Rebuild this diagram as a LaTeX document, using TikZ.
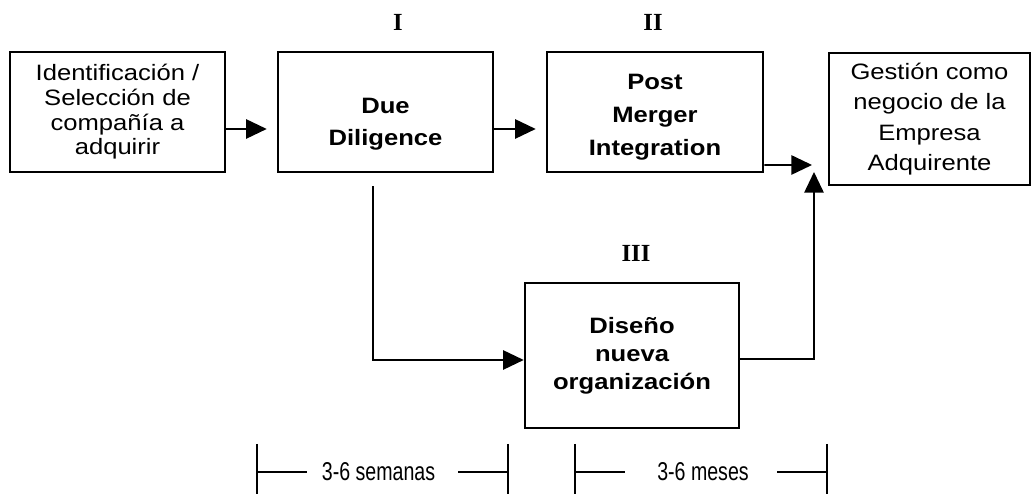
\documentclass[tikz,border=0pt]{standalone}
\usepackage{fontspec}
\setmainfont[FakeStretch=1.15]{Liberation Sans}
\newfontfamily\narrowfont[FakeStretch=0.76]{Liberation Sans}
\newfontfamily\romanfont{Liberation Serif}
\usetikzlibrary{arrows.meta}

\begin{document}
\begin{tikzpicture}[
  stage/.style={draw=black, line width=2.2pt, align=center, inner sep=0pt},
  flow/.style={-{Triangle[length=0.62cm,width=0.58cm]}, black, line width=1.5pt},
  phase/.style={font=\romanfont\bfseries\fontsize{21}{25}\selectfont},
  span/.style={font=\narrowfont\fontsize{22}{26}\selectfont}
]
  % Layout frame
  \useasboundingbox (0,0) rectangle (31.02,14.82);

  % -------- top row --------
  \node[stage, minimum width=6.45cm, minimum height=3.6cm,
        font=\fontsize{19}{21}\selectfont] (ident) at (3.525,11.46)
        {Identificación /\\Selección de\\compañía a\\adquirir};
  \node[stage, minimum width=6.45cm, minimum height=3.6cm] (due) at (11.565,11.46) {};
  \node[align=center, font=\bfseries\fontsize{19}{27}\selectfont] (duetext)
        at ([yshift=-0.36cm]due.center) {Due\\Diligence};
  \node[stage, minimum width=6.48cm, minimum height=3.6cm] (pmi) at (19.65,11.46) {};
  \node[align=center, font=\bfseries\fontsize{19}{28}\selectfont] (pmitext)
        at ([yshift=-0.15cm]pmi.center) {Post\\Merger\\Integration};
  \node[stage, minimum width=6.03cm, minimum height=3.96cm,
        font=\fontsize{19}{26}\selectfont] (gestion) at (27.885,11.25)
        {Gestión como\\negocio de la\\Empresa\\Adquirente};

  % -------- lower box --------
  \node[stage, minimum width=6.42cm, minimum height=4.35cm,
        font=\bfseries\fontsize{19}{24}\selectfont] (diseno) at (18.96,4.155)
        {Diseño\\nueva\\organización};

  % -------- phase numbers --------
  \node[phase] (ph1) at (11.94,14.16) {I};
  \node[phase] (ph2) at (19.59,14.16) {II};
  \node[phase] (ph3) at (19.08,7.23) {III};

  % -------- arrows --------
  \coordinate (hin) at (24.36,9.87);
  \coordinate (vin) at (24.42,9.66);
  \draw[flow, shorten >=0.3cm] ([yshift=-0.51cm]ident.east) -- ([yshift=-0.51cm]due.west);
  \draw[flow, shorten >=0.3cm] ([yshift=-0.51cm]due.east) -- ([yshift=-0.51cm]pmi.west);
  \draw[flow] ([yshift=-1.59cm]pmi.east) -- (hin);
  \draw[flow] ([yshift=-0.105cm]diseno.east) -| (vin);
  \draw[flow] ([xshift=-0.375cm,yshift=-0.39cm]due.south) |- ([yshift=-0.135cm]diseno.west);

  % -------- time spans --------
  \foreach \a/\b/\c/\t [count=\i] in {7.71/15.24/11.355/3-6 semanas, 17.25/24.81/21.09/3-6 meses} {
    \node[span] (span\i) at (\c,0.66) {\t};
    \draw[line width=1.8pt] (\a,1.5) -- (\a,0);
    \draw[line width=1.8pt] (\b,1.5) -- (\b,0);
    \draw[line width=1.2pt] (\a,0.66) -- (\a+1.5,0.66);
    \draw[line width=1.2pt] (\b-1.5,0.66) -- (\b,0.66);
  }
\end{tikzpicture}
\end{document}
